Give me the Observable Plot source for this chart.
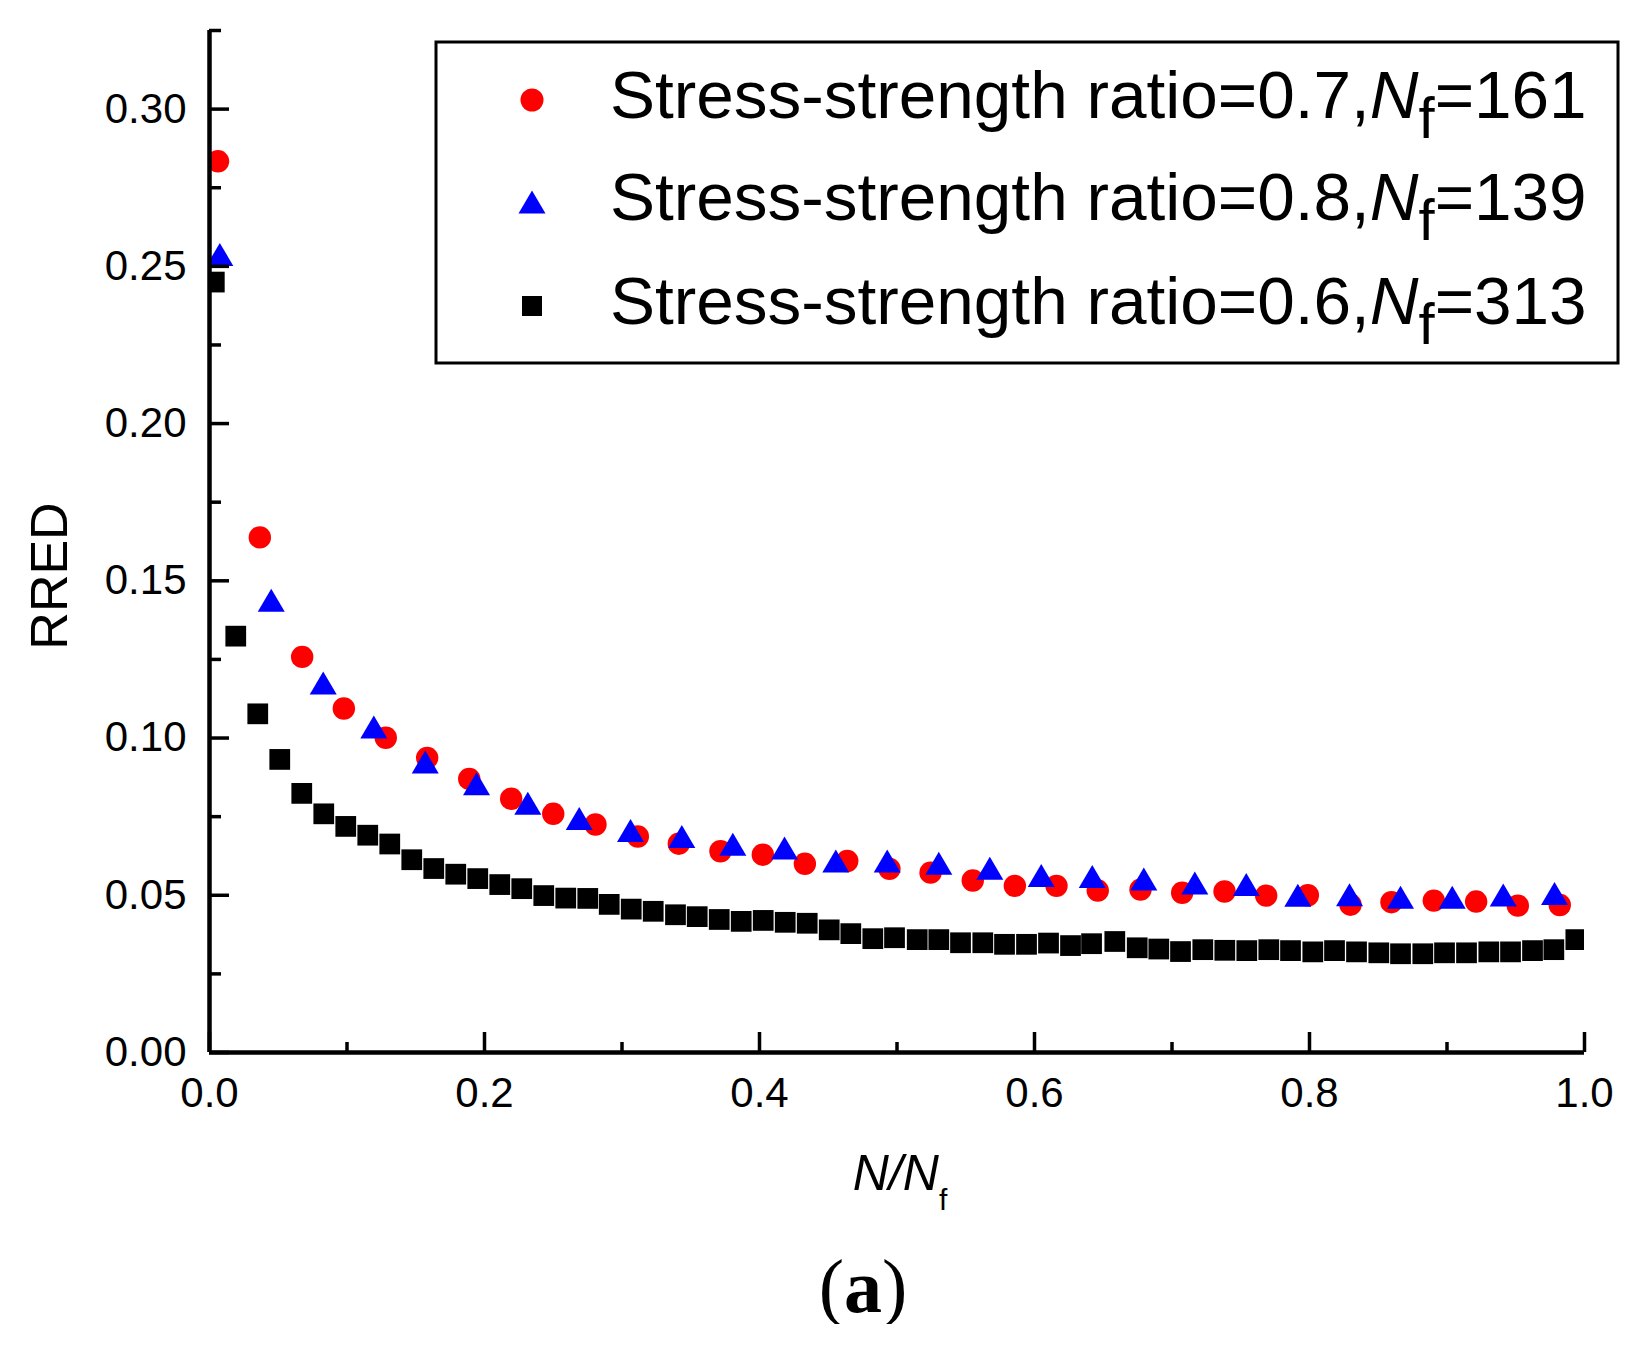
<!DOCTYPE html>
<html>
<head>
<meta charset="utf-8">
<script src="https://cdn.jsdelivr.net/npm/d3@7"></script>
<script src="https://cdn.jsdelivr.net/npm/@observablehq/plot@0.6"></script>
<style>
  html, body { margin: 0; padding: 0; background: #fff; overflow: hidden; }
  #chart { width: 1644px; }
  #caption {
    width: 200px; margin-left: 763px; margin-top: 8px;
    text-align: center; font-family: "Liberation Serif", "Times New Roman", serif;
    font-size: 76px; line-height: 76px; color: #000;
  }
  #caption b { font-weight: bold; }
</style>
</head>
<body>
<div id="chart"></div>
<div id="caption">(<b>a</b>)</div>
<script>
// ---- data ----
const seriesLabels = [
  "Stress-strength ratio=0.7,", "Stress-strength ratio=0.8,", "Stress-strength ratio=0.6,"
];
const seriesNf = ["=161", "=139", "=313"];

// Stress-strength ratio = 0.7, Nf = 161 (red circles)
const redX = [0.0062, 0.0366, 0.0674, 0.0977, 0.1282, 0.1583, 0.1889, 0.2194, 0.2500, 0.2807,
  0.3115, 0.3413, 0.3716, 0.4024, 0.4330, 0.4638, 0.4945, 0.5244, 0.5551, 0.5857, 0.6160,
  0.6460, 0.6771, 0.7074, 0.7382, 0.7685, 0.7988, 0.8298, 0.8596, 0.8904, 0.9212, 0.9515, 0.9820];
const redY = [0.2834, 0.1638, 0.1258, 0.1094, 0.1001, 0.0937, 0.0870, 0.0807, 0.0759, 0.0725,
  0.0687, 0.0664, 0.0640, 0.0629, 0.0600, 0.0609, 0.0584, 0.0572, 0.0547, 0.0530, 0.0530,
  0.0515, 0.0518, 0.0508, 0.0512, 0.0499, 0.0500, 0.0470, 0.0478, 0.0483, 0.0480, 0.0467, 0.0469];

// Stress-strength ratio = 0.8, Nf = 139 (blue triangles)
const blueX = [0.0075, 0.0449, 0.0827, 0.1195, 0.1569, 0.1942, 0.2315, 0.2689, 0.3062, 0.3435,
  0.3806, 0.4182, 0.4555, 0.4929, 0.5304, 0.5675, 0.6049, 0.6420, 0.6795, 0.7166, 0.7540,
  0.7915, 0.8291, 0.8662, 0.9038, 0.9409, 0.9782];
const blueY = [0.2538, 0.1438, 0.1175, 0.1035, 0.0924, 0.0855, 0.0793, 0.0744, 0.0706, 0.0687,
  0.0662, 0.0650, 0.0609, 0.0609, 0.0602, 0.0586, 0.0563, 0.0560, 0.0552, 0.0539, 0.0534,
  0.0500, 0.0502, 0.0494, 0.0494, 0.0501, 0.0506];

// Stress-strength ratio = 0.6, Nf = 313 (black squares)
const blackX = [0.0035, 0.0191, 0.0351, 0.0511, 0.0671, 0.0831, 0.0991, 0.1151, 0.1311, 0.1471,
  0.1631, 0.1791, 0.1951, 0.2111, 0.2271, 0.2431, 0.2591, 0.2751, 0.2907, 0.3067,
  0.3227, 0.3389, 0.3547, 0.3707, 0.3867, 0.4027, 0.4187, 0.4347, 0.4507, 0.4664,
  0.4824, 0.4982, 0.5147, 0.5304, 0.5462, 0.5624, 0.5782, 0.5942, 0.6102, 0.6262,
  0.6415, 0.6584, 0.6747, 0.6904, 0.7062, 0.7224, 0.7384, 0.7544, 0.7704, 0.7862,
  0.8024, 0.8182, 0.8342, 0.8504, 0.8662, 0.8824, 0.8982, 0.9142, 0.9304, 0.9462,
  0.9622, 0.9777, 0.9937];
const blackY = [0.2450, 0.1324, 0.1077, 0.0932, 0.0824, 0.0759, 0.0719, 0.0691, 0.0663, 0.0613,
  0.0585, 0.0567, 0.0553, 0.0534, 0.0521, 0.0499, 0.0491, 0.0490, 0.0471, 0.0456,
  0.0449, 0.0438, 0.0432, 0.0423, 0.0417, 0.0420, 0.0414, 0.0411, 0.0390, 0.0378,
  0.0362, 0.0365, 0.0359, 0.0359, 0.0349, 0.0349, 0.0344, 0.0344, 0.0348, 0.0340,
  0.0346, 0.0353, 0.0333, 0.0329, 0.0321, 0.0327, 0.0325, 0.0324, 0.0327, 0.0324,
  0.0320, 0.0324, 0.0320, 0.0317, 0.0314, 0.0314, 0.0317, 0.0317, 0.0320, 0.0320,
  0.0324, 0.0327, 0.0359];

// axis ticks
const xMajorTicks = [0, 0.2, 0.4, 0.6, 0.8, 1.0];
const xMinorTicks = [0.1, 0.3, 0.5, 0.7, 0.9];
const yMajorTicks = [0, 0.05, 0.10, 0.15, 0.20, 0.25, 0.30];
const yMinorTicks = [0.025, 0.075, 0.125, 0.175, 0.225, 0.275, 0.325];
const xDomain = [0, 1];
const yDomain = [0, 0.325];

// ---- build ----
const toRows = (xs, ys) => xs.map((x, i) => ({x, y: ys[i]}));
const red = toRows(redX, redY);
const blue = toRows(blueX, blueY);
const black = toRows(blackX, blackY);

const RED = "#ff0000", BLUE = "#0000ff", BLACK = "#000000";

// triangle centered on its bounding box (as in the original software)
const triSymbol = {
  draw(ctx, size) {
    const r = Math.sqrt(size / Math.PI);
    const hw = 1.35 * r, hh = 1.15 * r;
    ctx.moveTo(0, -hh);
    ctx.lineTo(hw, hh);
    ctx.lineTo(-hw, hh);
    ctx.closePath();
  }
};

const W = 1644, H = 1240;
const FONT = "'Liberation Sans', Arial, Helvetica, sans-serif";

const svg = Plot.plot({
  width: W,
  height: H,
  marginLeft: 209,
  marginRight: 60,
  marginTop: 30,
  marginBottom: H - 1052,
  x: {domain: xDomain, label: null},
  y: {domain: yDomain, label: null},
  style: {fontFamily: FONT, fontSize: "42px", color: "#000", background: "#fff"},
  marks: [
    Plot.dot(black, {x: "x", y: "y", symbol: "square", r: 11.7, fill: BLACK, stroke: "none", clip: true}),
    Plot.dot(red, {x: "x", y: "y", symbol: "circle", r: 11.2, fill: RED, stroke: "none", clip: true}),
    Plot.dot(blue, {x: "x", y: "y", symbol: triSymbol, r: 10, fill: BLUE, stroke: "none", clip: true}),
    // x axis: major ticks (inward), minor ticks, labels
    Plot.axisX({ticks: xMajorTicks, tickSize: -20, strokeWidth: 3.5, fill: "none", label: null}),
    Plot.axisX({ticks: xMinorTicks, tickSize: -10, strokeWidth: 3.5, fill: "none", label: null}),
    Plot.axisX({ticks: xMajorTicks, tickSize: 0, tickPadding: 25, tickFormat: ".1f", label: null}),
    // y axis
    Plot.axisY({ticks: yMajorTicks, tickSize: -20, strokeWidth: 3.5, fill: "none", label: null}),
    Plot.axisY({ticks: yMinorTicks, tickSize: -12, strokeWidth: 3.5, fill: "none", label: null}),
    Plot.axisY({ticks: yMajorTicks, tickSize: 0, tickPadding: 23, tickFormat: ".2f", label: null}),
    // axis lines
    Plot.ruleX([0], {strokeWidth: 4.5, stroke: BLACK}),
    Plot.ruleY([0], {strokeWidth: 4.5, stroke: BLACK})
  ]
});

const s = d3.select(svg);

// y axis title
s.append("text")
  .attr("transform", "translate(67,576) rotate(-90)")
  .attr("text-anchor", "middle")
  .attr("font-family", FONT)
  .attr("font-size", 52)
  .attr("fill", BLACK)
  .text("RRED");

// x axis title N/Nf
const xt = s.append("text")
  .attr("x", 900).attr("y", 1190)
  .attr("text-anchor", "middle")
  .attr("font-family", FONT)
  .attr("fill", BLACK);
xt.append("tspan").attr("font-size", 50).attr("font-style", "italic").text("N/N");
xt.append("tspan").attr("font-size", 30).attr("dy", 20).text("f");

// legend box
const lg = s.append("g").attr("text-anchor", "start");
lg.append("rect")
  .attr("x", 436).attr("y", 42).attr("width", 1182).attr("height", 321)
  .attr("fill", "#fff").attr("stroke", BLACK).attr("stroke-width", 3);

const legendSymbols = [
  {sym: d3.symbolCircle, r: 11.5, color: RED},
  {sym: triSymbol, r: 10, color: BLUE},
  {sym: d3.symbolSquare, r: 11.3, color: BLACK}
];
const legendRowY = [100, 202, 306];
legendSymbols.forEach((d, i) => {
  lg.append("path")
    .attr("transform", `translate(532,${legendRowY[i]})`)
    .attr("d", d3.symbol(d.sym, d.r * d.r * Math.PI)())
    .attr("fill", d.color);
  const t = lg.append("text")
    .attr("x", 610).attr("y", legendRowY[i] + 18)
    .attr("text-anchor", "start")
    .attr("font-family", FONT)
    .attr("font-size", 67.5)
    .attr("fill", BLACK);
  t.append("tspan").text(seriesLabels[i]);
  t.append("tspan").attr("font-style", "italic").text("N");
  t.append("tspan").attr("font-size", 58).attr("dy", 20).text("f");
  t.append("tspan").attr("font-size", 67.5).attr("dy", -20).text(seriesNf[i]);
});

document.getElementById("chart").appendChild(svg);
</script>
</body>
</html>
